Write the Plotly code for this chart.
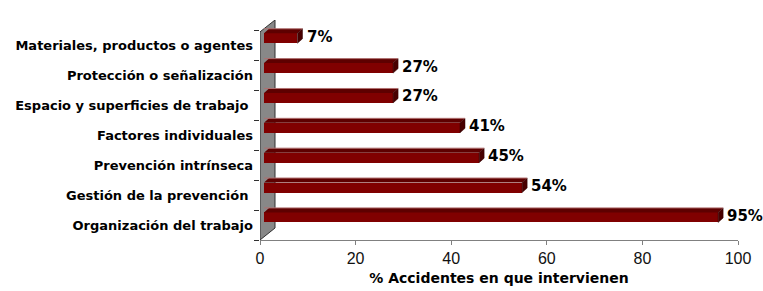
import plotly.graph_objects as go

# Data (top to bottom as shown in the reference)
categories = [
    "Materiales, productos o agentes",
    "Protección o señalización",
    "Espacio y superficies de trabajo\u00a0",
    "Factores individuales",
    "Prevención intrínseca",
    "Gestión de la prevención\u00a0",
    "Organización del trabajo",
]
values = [7, 27, 27, 41, 45, 54, 95]
x_tickvals = [0, 20, 40, 60, 80, 100]
x_title = "% Accidentes en que intervienen"

# plot from bottom to top
cats = categories[::-1]
vals = values[::-1]
pos = list(range(len(cats)))

# 3D styling constants (axis units)
base = 0.84          # bars start slightly in front of the wall
bar_w = 0.335        # thickness of front face
bar_off = 0.09       # shift of front face within category slot
dx = 1.05            # depth offset along x
dy = 0.15            # depth offset along y
wall_dx = 3.14
y_top = 6.868

front = "#800000"
topc = "#5e0000"
sidec = "#480000"

fig = go.Figure()

fig.add_trace(go.Bar(
    orientation="h", y=pos, x=vals, base=base, width=bar_w, offset=bar_off,
    marker=dict(color=front, line=dict(width=0)), showlegend=False, hoverinfo="skip",
))

# top faces and side faces
tx, ty, sx, sy, hx, hy = [], [], [], [], [], []
for p, v in zip(pos, vals):
    yb = p + bar_off
    yt = yb + bar_w
    x1 = base + v
    tx += [base, x1, x1 + dx, base + dx, base, None]
    ty += [yt, yt, yt + dy, yt + dy, yt, None]
    sx += [x1, x1 + dx, x1 + dx, x1, x1, None]
    sy += [yb, yb + dy, yt + dy, yt, yb, None]
    hx += [base, x1 + dx, None]
    hy += [yt + dy, yt + dy, None]

fig.add_trace(go.Scatter(x=tx, y=ty, mode="lines", fill="toself", fillcolor=topc,
                         line=dict(width=0, color=topc), showlegend=False, hoverinfo="skip"))
fig.add_trace(go.Scatter(x=sx, y=sy, mode="lines", fill="toself", fillcolor=sidec,
                         line=dict(width=0.5, color="#300000"), showlegend=False, hoverinfo="skip"))
fig.add_trace(go.Scatter(x=hx, y=hy, mode="lines", line=dict(width=1, color="#b07070"),
                         showlegend=False, hoverinfo="skip"))

# value labels
for p, v in zip(pos, vals):
    fig.add_annotation(
        x=base + v + 1.5, y=p + bar_off + bar_w / 2 + 0.05, text=f"{v}%",
        xanchor="left", yanchor="middle", showarrow=False,
        font=dict(family="DejaVu Sans", size=15, color="#000000", weight="bold"),
    )

# side wall
fig.add_shape(
    type="path", xref="x", yref="y", layer="below",
    path=f"M 0,-0.5 L 0,6.47 L {wall_dx},{y_top} L {wall_dx},-0.098 Z",
    fillcolor="#888888", line=dict(color="#303030", width=1),
)

fig.update_layout(
    width=763, height=291,
    margin=dict(l=260, r=25, t=20, b=51),
    paper_bgcolor="white", plot_bgcolor="white",
    bargap=0,
    xaxis=dict(
        range=[0, 100], tickvals=x_tickvals, showgrid=False, zeroline=False,
        showline=True, linecolor="#808080", linewidth=1, automargin=False,
        ticks="outside", ticklen=4, tickcolor="#808080",
        tickfont=dict(family="Liberation Sans", size=16, color="#111111"),
        title=dict(text=x_title, standoff=6,
                   font=dict(family="DejaVu Sans", size=14, color="#000000", weight="bold")),
    ),
    yaxis=dict(
        range=[-0.5, y_top], tickvals=pos, ticktext=cats, showgrid=False, zeroline=False,
        showline=False, ticks="", ticklabelstandoff=6, automargin=False,
        tickfont=dict(family="DejaVu Sans", size=13, color="#000000", weight="bold"),
        minor=dict(ticks="outside", ticklen=5, tickcolor="#303030", tick0=-0.5, dtick=1, showgrid=False),
    ),
)

fig.write_html("out.html", config={"displayModeBar": False},
               post_script="document.body.style.margin='0';")
